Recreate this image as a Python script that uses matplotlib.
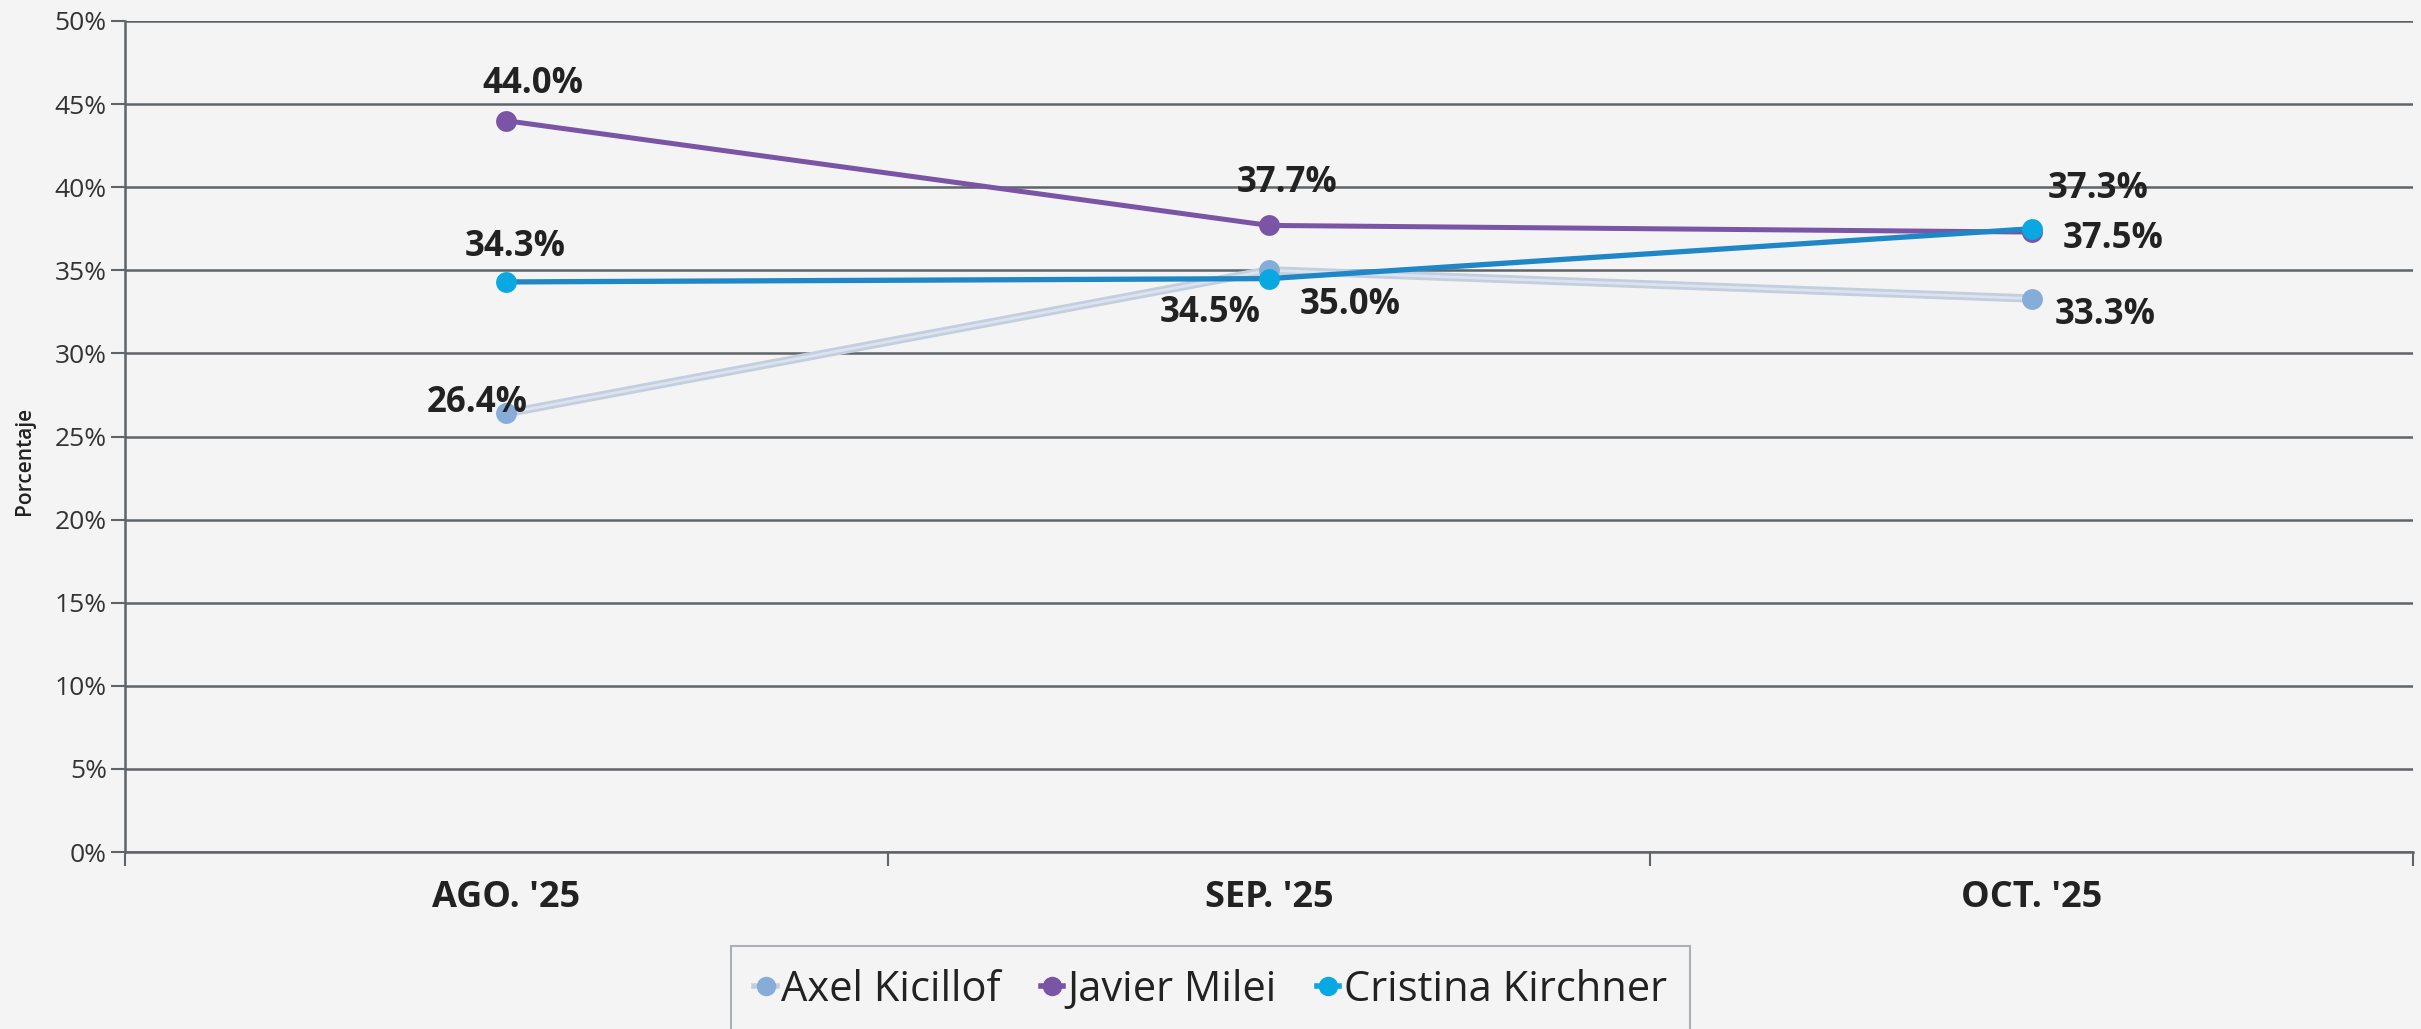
import matplotlib
matplotlib.use("Agg")
import matplotlib.pyplot as plt
from matplotlib.ticker import FixedLocator, FuncFormatter

# datos
meses = ["AGO. '25", "SEP. '25", "OCT. '25"]
axel = [26.4, 35.0, 33.3]
milei = [44.0, 37.7, 37.3]
cristina = [34.3, 34.5, 37.5]

# desplazamiento de cada etiqueta (pixeles) respecto del punto
off_axel = [(-29, 10), (81, -35), (74, -16)]
off_milei = [(27, 37), (18, 42), (66, 43)]
off_cristina = [(9, 35), (-59, -34), (81, -10)]

plt.rcParams['font.family'] = ['Open Sans', 'DejaVu Sans']
fondo = '#f4f4f4'

fig = plt.figure(figsize=(24.21, 10.29), dpi=100, facecolor=fondo)
ax = fig.add_axes([0.0516, 0.172, 0.9451, 0.8076], facecolor=fondo)

x = list(range(len(meses)))

# Axel: linea palida con borde
ax.plot(x, axel, color='#c3cfdf', lw=6, zorder=3, solid_capstyle='round')
ax.plot(x, axel, color='#dbe3ee', lw=2, zorder=3)
ax.plot(x, axel, linestyle='none', marker='o', ms=15, color='#86acd8',
        markeredgewidth=0, zorder=4)
ax.plot(x, milei, color='#7b55a5', lw=3.6, marker='o', ms=15,
        markerfacecolor='#7b55a5', markeredgewidth=0, zorder=5)
ax.plot(x, cristina, color='#1f87c5', lw=3.8, zorder=6)
ax.plot(x, cristina, linestyle='none', marker='o', ms=15, color='#0aa8e2',
        markeredgewidth=0, zorder=7)

def etiquetas(vals, offs):
    for xi, v, (dx, dy) in zip(x, vals, offs):
        ax.annotate(f"{v:.1f}%", (xi, v), xytext=(dx, dy), textcoords='offset pixels',
                    ha='center', va='center', fontsize=25, fontweight='bold',
                    color='#222222', zorder=10)

etiquetas(axel, off_axel)
etiquetas(milei, off_milei)
etiquetas(cristina, off_cristina)

ax.set_xlim(-0.5, 2.5)
ax.set_ylim(0, 50)
ax.yaxis.set_major_locator(FixedLocator(range(0, 51, 5)))
ax.yaxis.set_major_formatter(FuncFormatter(lambda v, p: f"{int(v)}%"))
ax.grid(axis='y', color='#5f6468', lw=1.8)
ax.set_axisbelow(True)

ax.set_xticks(x)
ax.set_xticklabels(meses, fontsize=26, fontweight='bold', color='#222222')
ax.set_xticks([-0.5, 0.5, 1.5, 2.5], minor=True)
ax.tick_params(axis='x', which='major', length=0, pad=20)
ax.tick_params(axis='x', which='minor', length=10, width=1.5, color='#5f6468', direction='out')
ax.tick_params(axis='y', length=10, width=1.5, color='#5f6468', labelsize=19,
               labelcolor='#333333', pad=3)

for s in ['top', 'right']:
    ax.spines[s].set_visible(False)
for s in ['left', 'bottom']:
    ax.spines[s].set_color('#5f6468')
    ax.spines[s].set_linewidth(1.8)

ax.set_ylabel('Porcentaje', fontsize=15, fontweight='semibold', color='#222222')
ax.yaxis.set_label_coords(-0.0395, 0.47)

# leyenda
h1, = ax.plot([], [], color='#c3cfdf', lw=4, marker='o', ms=14, markerfacecolor='#86acd8', markeredgewidth=0)
h2, = ax.plot([], [], color='#7b55a5', lw=4, marker='o', ms=14, markeredgewidth=0)
h3, = ax.plot([], [], color='#0aa8e2', lw=4, marker='o', ms=14, markeredgewidth=0)
leg = fig.legend([h1, h2, h3], ['Axel Kicillof', 'Javier Milei', 'Cristina Kirchner'],
                 loc='upper center', bbox_to_anchor=(0.5, 0.081), ncol=3,
                 fontsize=30, frameon=True, fancybox=False, handlelength=0.55,
                 handletextpad=0.1, columnspacing=0.95, borderpad=0.55,
                 borderaxespad=0)
leg.get_frame().set_edgecolor('#9a9fa6')
leg.get_frame().set_facecolor(fondo)
leg.get_frame().set_linewidth(1.5)
for t in leg.get_texts():
    t.set_color('#222222')

fig.savefig('out.png', dpi=100, facecolor=fondo)
